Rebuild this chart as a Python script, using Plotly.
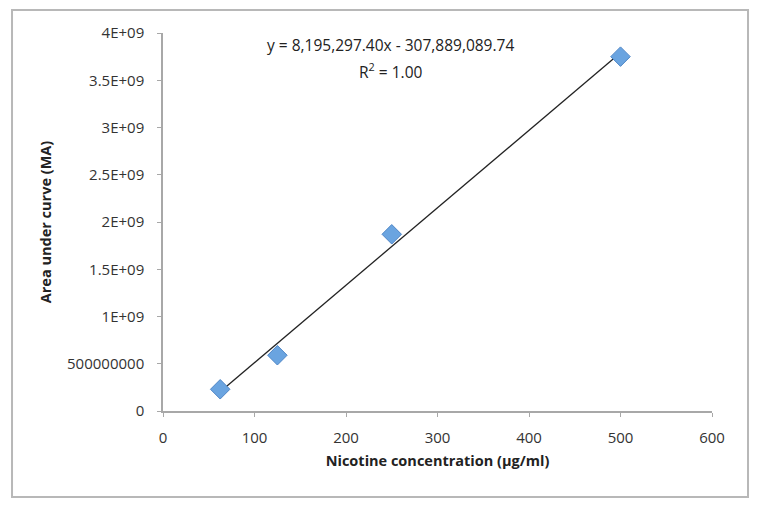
import plotly.graph_objects as go

conc = [62.5, 125, 250, 500]
area = [2.3e8, 5.9e8, 1.87e9, 3.75e9]
slope = 8195297.40
intercept = -307889089.74
eq_line1 = "y = 8,195,297.40x - 307,889,089.74"
eq_line2 = "R<sup>2</sup> = 1.00"
x_ticks = [0, 100, 200, 300, 400, 500, 600]
y_ticks = [0, 5e8, 1e9, 1.5e9, 2e9, 2.5e9, 3e9, 3.5e9, 4e9]
y_ticktext = ["0", "500000000", "1E+09", "1.5E+09", "2E+09", "2.5E+09", "3E+09", "3.5E+09", "4E+09"]

fit_x = [min(conc), max(conc)]
fit_y = [slope * v + intercept for v in fit_x]

font_family = "Open Sans, Liberation Sans, sans-serif"

fig = go.Figure()
fig.add_trace(go.Scatter(x=fit_x, y=fit_y, mode="lines",
                         line=dict(color="#222222", width=1.3), showlegend=False))
fig.add_trace(go.Scatter(x=conc, y=area, mode="markers",
                         marker=dict(symbol="diamond", size=15, color="#6aa4e0",
                                     line=dict(color="#4f86c6", width=1)),
                         showlegend=False))

# page body has an 8px margin, so shrink the figure accordingly
fig.update_layout(
    width=754, height=497,
    margin=dict(l=155, r=50, t=25, b=94),
    paper_bgcolor="white", plot_bgcolor="white",
    font=dict(family=font_family, size=15, color="#333333"),
    xaxis=dict(range=[0, 600], tickvals=x_ticks, showgrid=False, zeroline=False,
               showline=True, linecolor="#a8a8a8", linewidth=1.5,
               ticks="outside", ticklen=4, tickcolor="#a8a8a8",
               ticklabelstandoff=8,
               title=dict(text="<b>Nicotine concentration (µg/ml)</b>", standoff=10,
                          font=dict(size=14.5, color="#222222"))),
    yaxis=dict(range=[0, 4e9], tickvals=y_ticks, ticktext=y_ticktext,
               showgrid=False, zeroline=False,
               showline=True, linecolor="#a8a8a8", linewidth=1.5,
               ticks="outside", ticklen=4, tickcolor="#a8a8a8",
               ticklabelstandoff=10,
               title=dict(text="<b>Area under curve (MA)</b>", standoff=12,
                          font=dict(size=14.5, color="#222222"))),
    annotations=[
        dict(x=249, y=1.0 + 1 / 378, xref="x", yref="paper", yanchor="top",
             text=eq_line1, showarrow=False, align="center",
             font=dict(size=15.5, color="#222222")),
        dict(x=249, y=1.0 - 24 / 378, xref="x", yref="paper", yanchor="top",
             text=eq_line2, showarrow=False, align="center",
             font=dict(size=15.5, color="#222222")),
    ],
    shapes=[dict(type="rect", xref="paper", yref="paper",
                 x0=-0.275, x1=1.0656, y0=-0.2275, y1=1.0608,
                 line=dict(color="#b8b8b8", width=2), layer="below")],
)

fig.write_html("out.html")
